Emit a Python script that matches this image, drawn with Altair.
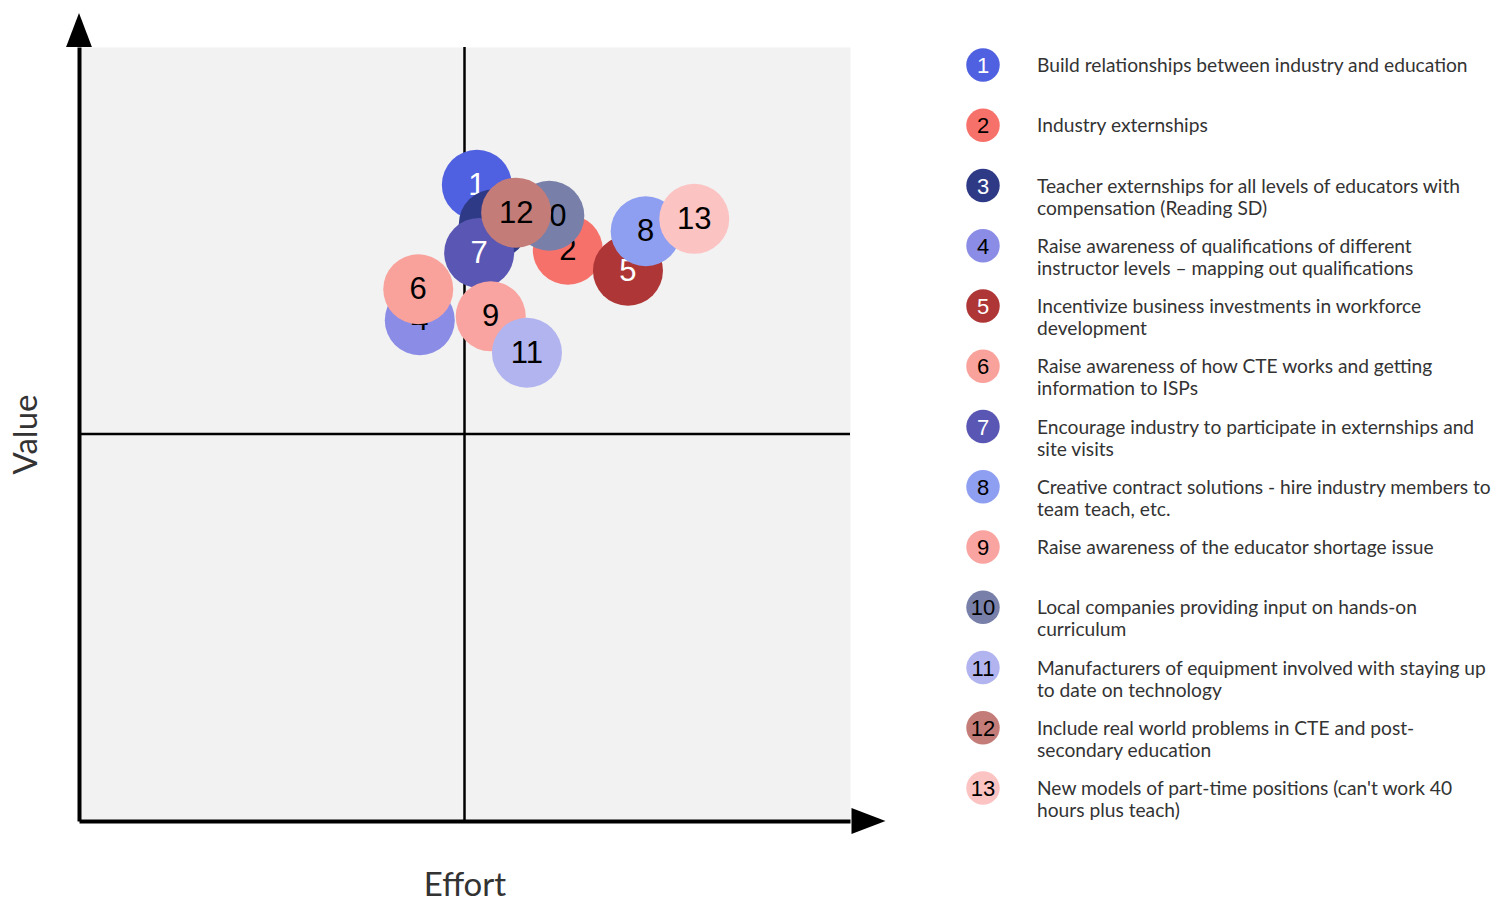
import altair as alt
import pandas as pd

# ---------------- data ----------------
ids = list(range(1, 14))
effort = [5.16, 6.34, 5.38, 4.42, 7.12, 4.40, 5.19, 7.35, 5.34, 6.10, 5.81, 5.67, 7.98]
value = [8.22, 7.38, 7.71, 6.47, 7.11, 6.87, 7.34, 7.62, 6.52, 7.82, 6.05, 7.86, 7.78]
labels = [
    "Build relationships between industry and education",
    "Industry externships",
    "Teacher externships for all levels of educators with\ncompensation (Reading SD)",
    "Raise awareness of qualifications of different\ninstructor levels \u2013 mapping out qualifications",
    "Incentivize business investments in workforce\ndevelopment",
    "Raise awareness of how CTE works and getting\ninformation to ISPs",
    "Encourage industry to participate in externships and\nsite visits",
    "Creative contract solutions - hire industry members to\nteam teach, etc.",
    "Raise awareness of the educator shortage issue",
    "Local companies providing input on hands-on\ncurriculum",
    "Manufacturers of equipment involved with staying up\nto date on technology",
    "Include real world problems in CTE and post-\nsecondary education",
    "New models of part-time positions (can't work 40\nhours plus teach)",
]
legend_order = list(range(13))
quad_x = [5]
quad_y = [5]
axis_min = [0, 0]
axis_max = [10, 10]

# ---------------- styles ----------------
palette = ["#4F60E0", "#F7716B", "#2E3A86", "#8A8CE6", "#AE3636", "#F9A29C", "#5A56B3",
           "#8E9EF0", "#F9A4A0", "#7880A9", "#B2B4EF", "#C47C78", "#FCC3C3"]
white_ids = [1, 3, 5, 7]
FONT = "Lato"
NUM_FONT = "Liberation Sans"

df = pd.DataFrame({"id": ids, "effort": effort, "value": value, "label": labels,
                   "li": legend_order})
df["txtcol"] = ["white" if i in white_ids else "black" for i in ids]
df["num"] = df["id"].astype(str)

color_scale = alt.Scale(domain=ids, range=palette)
xs = alt.Scale(domain=[axis_min[0], axis_max[0]], nice=False, zero=False)
ys = alt.Scale(domain=[axis_min[1], axis_max[1]], nice=False, zero=False)

x_axis = alt.Axis(title="Effort", labels=False, ticks=False, grid=False, domainColor="black",
                  domainWidth=4, titleFont=FONT, titleFontSize=33, titleFontWeight="normal",
                  titleColor="#333333", titlePadding=48)
y_axis = alt.Axis(title="Value", labels=False, ticks=False, grid=False, domainColor="black",
                  domainWidth=4, titleFont=FONT, titleFontSize=33, titleFontWeight="normal",
                  titleColor="#333333", titlePadding=36)

def X(field):
    return alt.X(field, type="quantitative", scale=xs, axis=x_axis)

def Y(field):
    return alt.Y(field, type="quantitative", scale=ys, axis=y_axis)

main_layers = []

qx = pd.DataFrame({"qx": quad_x})
qy = pd.DataFrame({"qy": quad_y})
main_layers.append(alt.Chart(qx).mark_rule(color="black", strokeWidth=2.5).encode(x=X("qx")))
main_layers.append(alt.Chart(qy).mark_rule(color="black", strokeWidth=2.5).encode(y=Y("qy")))

for i in ids:
    sub = df[df["id"] == i]
    main_layers.append(
        alt.Chart(sub).mark_circle(size=4900, opacity=1).encode(
            x=X("effort"), y=Y("value"),
            color=alt.Color("id:N", scale=color_scale, legend=None))
    )
    main_layers.append(
        alt.Chart(sub).mark_text(font=NUM_FONT, fontSize=31, baseline="middle", dy=1).encode(
            x=X("effort"), y=Y("value"), text="num:N",
            color=alt.Color("txtcol:N", scale=None))
    )

# arrow heads at the ends of the axes
arr = pd.DataFrame({"ax": [axis_min[0], 10.24], "ay": [10.22, axis_min[1]],
                    "shape": ["M0,-1L0.76,1L-0.76,1Z", "M1,0L-1,-0.76L-1,0.76Z"]})
main_layers.append(
    alt.Chart(arr).mark_point(filled=True, size=1156, opacity=1, color="black").encode(
        x=X("ax"), y=Y("ay"), shape=alt.Shape("shape:N", scale=None))
)

main = alt.layer(*main_layers)

# ---------------- legend ----------------
ly = alt.Y("li:Q", scale=alt.Scale(domain=[-0.299, 12.547], reverse=True, nice=False, zero=False),
           axis=None)
leg_c = alt.Chart(df).mark_circle(size=1120, opacity=1).encode(
    x=alt.value(904), y=ly, color=alt.Color("id:N", scale=color_scale, legend=None))
leg_n = alt.Chart(df).mark_text(font=NUM_FONT, fontSize=22, baseline="middle", dy=1).encode(
    x=alt.value(904), y=ly, text="num:N", color=alt.Color("txtcol:N", scale=None))
leg_t = alt.Chart(df).mark_text(font=FONT, fontSize=19.2, align="left", baseline="alphabetic",
                                dy=7, lineBreak="\n", lineHeight=22, color="#333333").encode(
    x=alt.value(958), y=ly, text="label:N")
legend = alt.layer(leg_c, leg_n, leg_t)

chart = alt.layer(main, legend).resolve_scale(y="independent").properties(
    width=771, height=774, padding={"left": 2, "top": 4, "right": 0, "bottom": 0}
).configure_view(fill="#f2f2f2", stroke="transparent")

chart.save("out.html", embed_options={"renderer": "svg", "actions": False})
